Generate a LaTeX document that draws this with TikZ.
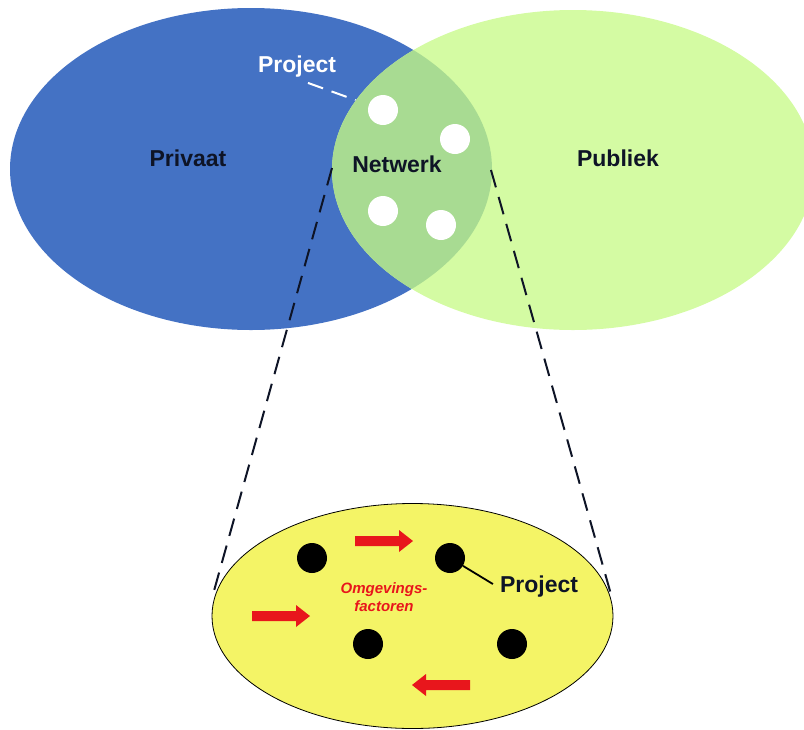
\documentclass[tikz,border=0pt]{standalone}
\usepackage{fontspec}
\setmainfont{Liberation Sans}
\usetikzlibrary{shapes.geometric,calc}
\definecolor{privblue}{RGB}{68,114,196}
\definecolor{publgreen}{RGB}{212,251,163}
\definecolor{netgreen}{RGB}{168,219,146}
\definecolor{zoomyellow}{RGB}{244,244,102}
\definecolor{factorred}{RGB}{232,22,28}
\definecolor{ink}{RGB}{14,20,38}
\tikzset{
  biglabel/.style={font=\fontsize{23}{27}\selectfont\bfseries, text=ink, inner sep=2pt},
  wdot/.style={circle, fill=white, minimum size=30pt, inner sep=0pt},
  bdot/.style={circle, fill=black, minimum size=30pt, inner sep=0pt},
  zoomline/.style={ink, line width=2pt, dash pattern=on 18pt off 10pt},
  wlead/.style={white, line width=2pt, dash pattern=on 16pt off 9pt},
  blead/.style={black, line width=1.8pt, dash pattern=on 35pt off 9pt},
  blockarrow/.pic={\fill[factorred] (0,-5) -- (44,-5) -- (44,-11) -- (58,0) -- (44,11) -- (44,5) -- (0,5) -- cycle;}
}
\begin{document}
\begin{tikzpicture}[x=1pt,y=-1pt]
\useasboundingbox (0,0) rectangle (804,729);
\clip (0,0) rectangle (804,729);

% private and public sectors, with the network where they overlap
\fill[privblue] (251,169) ellipse [x radius=241pt, y radius=161pt];
\fill[publgreen] (573,170) ellipse [x radius=241pt, y radius=160pt];
\begin{scope}
  \clip (251,169) ellipse [x radius=241pt, y radius=161pt];
  \fill[netgreen] (573,170) ellipse [x radius=241pt, y radius=160pt];
\end{scope}

\node[biglabel] (priv) at (188,158) {Privaat};
\node[biglabel] (publ) at (618,158) {Publiek};
\node[biglabel] (netw) at (397,164) {Netwerk};

% projects inside the network
\node[wdot] (p1) at (383,110) {};
\node[wdot] (p2) at (455,139) {};
\node[wdot] (p3) at (383,211) {};
\node[wdot] (p4) at (441,225) {};
\node[biglabel, text=white] (projtop) at (297,67) {Project};
\draw[wlead, shorten >=14pt] ($(projtop.south)+(11,3)$) -- (p1);

% zoom lines from the network down to the detail view
\coordinate (netL) at (332,168);
\coordinate (netR) at (491,170);
\coordinate (detL) at (212,598);
\coordinate (detR) at (612,598);
\draw[zoomline] (netL) -- (detL);
\draw[zoomline] (netR) -- (detR);

% detail view of the network
\node[ellipse, draw=black, line width=0.8pt, fill=zoomyellow,
      minimum width=401pt, minimum height=225pt, inner sep=0pt] (detail) at (412.5,616) {};

\node[bdot] (b1) at (312,558) {};
\node[bdot] (b2) at (450,558) {};
\node[bdot] (b3) at (368,644) {};
\node[bdot] (b4) at (512,644) {};

\node[biglabel] (projbot) at (539,587) {Project};
\draw[blead, shorten >=2pt] (b2) -- (projbot.west);

\node[font=\fontsize{15}{18}\selectfont\bfseries\itshape, text=factorred,
      align=center, inner sep=0pt] (omg) at (384,597) {Omgevings-\\factoren};

% external factors acting on the network
\pic at (355,541) {blockarrow};
\pic at (252,616) {blockarrow};
\pic[rotate=180] at (470,685) {blockarrow};
\end{tikzpicture}
\end{document}
